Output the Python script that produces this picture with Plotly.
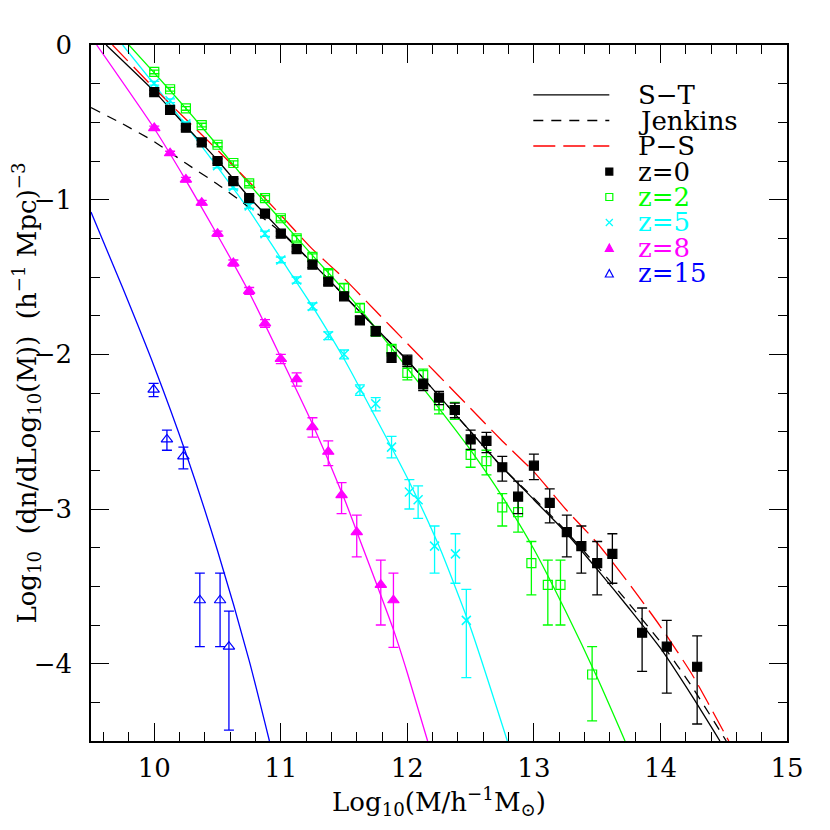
import plotly.graph_objects as go

# ---------------- data ----------------
# theoretical curves
st0_x = [9.62, 10.0, 10.25, 10.5, 10.75, 11.0, 11.25, 11.5, 11.75, 12.0, 12.25, 12.5, 12.75, 13.0, 13.25, 13.5, 13.75, 14.0, 14.25, 14.47]
st0_y = [0.0, -0.30, -0.525, -0.745, -0.985, -1.20, -1.41, -1.62, -1.83, -2.04, -2.27, -2.50, -2.73, -2.94, -3.15, -3.39, -3.64, -3.90, -4.21, -4.50]

jen_x = [9.5, 9.75, 10.0, 10.25, 10.5, 10.75, 11.0, 11.25, 11.5, 11.75, 12.0, 12.25, 12.5, 12.75, 13.0, 13.25, 13.5, 13.75, 14.0, 14.25, 14.52]
jen_y = [-0.405, -0.51, -0.625, -0.765, -0.90, -1.05, -1.21, -1.41, -1.62, -1.83, -2.04, -2.27, -2.50, -2.73, -2.93, -3.14, -3.37, -3.61, -3.86, -4.15, -4.50]

ps_x = [9.67, 10.0, 10.25, 10.5, 10.75, 11.0, 11.25, 11.5, 11.75, 12.0, 12.25, 12.5, 12.75, 13.0, 13.25, 13.5, 13.75, 14.0, 14.25, 14.5, 14.54]
ps_y = [0.0, -0.28, -0.48, -0.68, -0.885, -1.10, -1.32, -1.51, -1.72, -1.93, -2.14, -2.35, -2.56, -2.76, -3.00, -3.22, -3.48, -3.76, -4.07, -4.44, -4.50]

st2_x = [9.80, 10.0, 10.25, 10.5, 10.75, 11.0, 11.25, 11.5, 11.75, 12.0, 12.25, 12.5, 12.75, 13.0, 13.25, 13.5, 13.72]
st2_y = [0.0, -0.18, -0.41, -0.65, -0.90, -1.13, -1.36, -1.585, -1.83, -2.09, -2.35, -2.62, -2.92, -3.26, -3.66, -4.09, -4.50]

st5_x = [9.75, 10.0, 10.25, 10.5, 10.75, 11.0, 11.25, 11.5, 11.75, 12.0, 12.25, 12.5, 12.79]
st5_y = [0.0, -0.255, -0.52, -0.79, -1.07, -1.38, -1.69, -2.03, -2.41, -2.80, -3.24, -3.77, -4.50]

st8_x = [9.545, 10.0, 10.25, 10.5, 10.75, 11.0, 11.25, 11.5, 11.625, 11.75, 11.89, 12.0, 12.16]
st8_y = [0.0, -0.54, -0.875, -1.23, -1.60, -2.02, -2.45, -2.93, -3.20, -3.47, -3.78, -4.06, -4.50]

st15_x = [9.5, 9.75, 10.0, 10.25, 10.5, 10.75, 10.91]
st15_y = [-1.08, -1.57, -2.08, -2.64, -3.27, -3.98, -4.50]

# simulation points with (asymmetric) error bars
z0_x = [10.0, 10.125, 10.25, 10.375, 10.5, 10.625, 10.75, 10.875, 11.0, 11.125, 11.25, 11.375, 11.5,
        11.625, 11.75, 11.875, 12.0, 12.125, 12.25, 12.375, 12.5, 12.625, 12.75, 12.875, 13.0, 13.125,
        13.26, 13.375, 13.5, 13.62, 13.855, 14.05, 14.29]
z0_y = [-0.305, -0.42, -0.535, -0.63, -0.75, -0.88, -0.99, -1.09, -1.22, -1.32, -1.42, -1.53, -1.625,
        -1.78, -1.85, -2.02, -2.04, -2.195, -2.28, -2.36, -2.55, -2.56, -2.73, -2.92, -2.72, -2.96,
        -3.15, -3.24, -3.35, -3.29, -3.80, -3.89, -4.02]
z0_ep = [0.012, 0.012, 0.012, 0.012, 0.014, 0.014, 0.015, 0.015, 0.017, 0.018, 0.02, 0.02, 0.022,
         0.025, 0.028, 0.03, 0.035, 0.035, 0.04, 0.045, 0.06, 0.055, 0.07, 0.10, 0.075, 0.09,
         0.11, 0.13, 0.14, 0.13, 0.16, 0.17, 0.20]
z0_em = [0.012, 0.012, 0.012, 0.012, 0.014, 0.014, 0.015, 0.015, 0.017, 0.018, 0.02, 0.02, 0.022,
         0.025, 0.03, 0.032, 0.04, 0.04, 0.045, 0.05, 0.065, 0.075, 0.09, 0.11, 0.09, 0.13,
         0.16, 0.175, 0.205, 0.19, 0.25, 0.30, 0.37]

z2_x = [10.0, 10.125, 10.25, 10.375, 10.5, 10.625, 10.75, 10.875, 11.0, 11.125, 11.25, 11.375, 11.5,
        11.625, 11.75, 11.875, 12.0, 12.125, 12.25, 12.375, 12.5, 12.625, 12.75, 12.875, 12.98, 13.11,
        13.21, 13.46]
z2_y = [-0.174, -0.286, -0.41, -0.518, -0.645, -0.763, -0.895, -0.99, -1.12, -1.25, -1.37, -1.475, -1.57,
        -1.70, -1.85, -1.97, -2.12, -2.135, -2.33, -2.36, -2.65, -2.69, -2.99, -3.02, -3.35, -3.49,
        -3.49, -4.07]
z2_ep = [0.012, 0.012, 0.012, 0.012, 0.013, 0.014, 0.015, 0.016, 0.017, 0.018, 0.02, 0.022, 0.025,
         0.027, 0.03, 0.035, 0.04, 0.04, 0.05, 0.05, 0.08, 0.07, 0.09, 0.10, 0.14, 0.16, 0.16, 0.18]
z2_em = [0.012, 0.012, 0.012, 0.012, 0.013, 0.014, 0.015, 0.016, 0.017, 0.018, 0.02, 0.022, 0.025,
         0.028, 0.032, 0.04, 0.045, 0.045, 0.055, 0.06, 0.08, 0.09, 0.12, 0.13, 0.205, 0.26, 0.26, 0.30]

z5_x = [10.0, 10.125, 10.25, 10.375, 10.5, 10.625, 10.75, 10.875, 11.0, 11.125, 11.25, 11.375, 11.5,
        11.625, 11.75, 11.875, 12.016, 12.085, 12.215, 12.38, 12.466]
z5_y = [-0.247, -0.36, -0.51, -0.626, -0.78, -0.916, -1.04, -1.22, -1.39, -1.52, -1.69, -1.88, -2.0,
        -2.23, -2.32, -2.60, -2.89, -2.94, -3.24, -3.29, -3.72]
z5_ep = [0.012, 0.012, 0.012, 0.013, 0.014, 0.015, 0.016, 0.017, 0.018, 0.02, 0.022, 0.025, 0.028,
         0.032, 0.04, 0.07, 0.08, 0.09, 0.13, 0.13, 0.20]
z5_em = [0.012, 0.012, 0.012, 0.013, 0.014, 0.015, 0.016, 0.017, 0.018, 0.02, 0.022, 0.025, 0.03,
         0.035, 0.045, 0.07, 0.11, 0.12, 0.175, 0.19, 0.37]

z8_x = [10.0, 10.125, 10.25, 10.375, 10.5, 10.625, 10.75, 10.875, 11.0, 11.125, 11.25, 11.375, 11.48,
        11.60, 11.79, 11.89]
z8_y = [-0.537, -0.70, -0.87, -1.02, -1.22, -1.41, -1.59, -1.80, -2.03, -2.16, -2.47, -2.63, -2.91,
        -3.15, -3.49, -3.59]
z8_ep = [0.012, 0.013, 0.014, 0.015, 0.017, 0.02, 0.022, 0.025, 0.03, 0.04, 0.06, 0.07, 0.08, 0.11, 0.16, 0.175]
z8_em = [0.012, 0.013, 0.014, 0.015, 0.017, 0.02, 0.022, 0.025, 0.03, 0.045, 0.065, 0.09, 0.12, 0.16, 0.26, 0.305]

z15_x = [9.995, 10.10, 10.23, 10.36, 10.52, 10.59]
z15_y = [-2.228, -2.55, -2.66, -3.59, -3.59, -3.89]
z15_ep = [0.04, 0.06, 0.06, 0.175, 0.175, 0.23]
z15_em = [0.045, 0.07, 0.08, 0.30, 0.30, 0.54]

# axis ticks
x_ticks = [10, 11, 12, 13, 14, 15]
y_ticks = [0, -1, -2, -3, -4]

# ---------------- styling ----------------
BLACK, GREEN, CYAN, MAGENTA, BLUE, RED = "#000000", "#00ff00", "#00ffff", "#ff00ff", "#0000ff", "#ff0000"
FONT = "DejaVu Serif"
LW = 1.3

fig = go.Figure()

def curve(x, y, color, dash="solid"):
    fig.add_trace(go.Scatter(x=x, y=y, mode="lines", showlegend=False,
                             line=dict(color=color, width=LW, dash=dash, shape="spline", smoothing=0.6)))

curve(st15_x, st15_y, BLUE)
curve(st8_x, st8_y, MAGENTA)
curve(st5_x, st5_y, CYAN)
curve(st2_x, st2_y, GREEN)
curve(ps_x, ps_y, RED, "22px,8px")
curve(jen_x, jen_y, BLACK, "10px,8px")
curve(st0_x, st0_y, BLACK)

def points(x, y, ep, em, color, symbol, size, lw=1.2):
    fig.add_trace(go.Scatter(
        x=x, y=y, mode="markers", showlegend=False,
        marker=dict(symbol=symbol, size=size, color=color,
                    line=dict(color=color, width=lw)),
        error_y=dict(type="data", symmetric=False, array=ep, arrayminus=em,
                     color=color, thickness=1.3, width=5)))

points(z15_x, z15_y, z15_ep, z15_em, BLUE, "triangle-up-open", 10)
points(z8_x, z8_y, z8_ep, z8_em, MAGENTA, "triangle-up", 10)
points(z5_x, z5_y, z5_ep, z5_em, CYAN, "x-thin-open", 9, 1.5)
points(z2_x, z2_y, z2_ep, z2_em, GREEN, "square-open", 9)
points(z0_x, z0_y, z0_ep, z0_em, BLACK, "square", 9)

# ---------------- custom legend (paper coordinates) ----------------
rows = [0.9282, 0.8915, 0.8549, 0.8182, 0.7816, 0.7450, 0.7083, 0.6717]
lx0, lx1, tx = 0.6355, 0.7447, 0.783
LFS = 26
line_items = [("S\u2212T", BLACK, "solid"), ("Jenkins", BLACK, "10px,8px"), ("P\u2212S", RED, "22px,8px")]
shapes = []
annotations = []
for i, (lab, col, dash) in enumerate(line_items):
    shapes.append(dict(type="line", xref="paper", yref="paper", x0=lx0, x1=lx1, y0=rows[i], y1=rows[i],
                       line=dict(color=col, width=LW, dash=dash)))
    annotations.append(dict(text=lab, xref="paper", yref="paper", x=tx, y=rows[i], xanchor="left",
                            yanchor="middle", showarrow=False, font=dict(family=FONT, size=LFS, color=BLACK)))

marker_items = [("z=0", BLACK, "sq_fill"), ("z=2", GREEN, "sq_open"), ("z=5", CYAN, "cross"),
                ("z=8", MAGENTA, "tri_fill"), ("z=15", BLUE, "tri_open")]
for j, (lab, col, kind) in enumerate(marker_items):
    r = rows[3 + j]
    base = dict(xref="paper", yref="paper", xsizemode="pixel", ysizemode="pixel",
                xanchor=lx1, yanchor=r)
    if kind.startswith("sq"):
        shapes.append(dict(type="rect", x0=-3.5, x1=3.5, y0=-3.5, y1=3.5,
                           fillcolor=col if kind == "sq_fill" else "rgba(0,0,0,0)",
                           line=dict(color=col, width=1.2), **base))
    elif kind == "cross":
        shapes.append(dict(type="path", path="M-3.5,-3.5L3.5,3.5M-3.5,3.5L3.5,-3.5",
                           line=dict(color=col, width=1.2), **base))
    else:
        shapes.append(dict(type="path", path="M-4,-3.5L4,-3.5L0,4Z",
                           fillcolor=col if kind == "tri_fill" else "rgba(0,0,0,0)",
                           line=dict(color=col, width=1.2), **base))
    annotations.append(dict(text=lab, xref="paper", yref="paper", x=tx, y=r, xanchor="left",
                            yanchor="middle", showarrow=False, font=dict(family=FONT, size=LFS, color=col)))

axis_common = dict(showline=True, linecolor=BLACK, linewidth=1.5, mirror="allticks",
                   ticks="inside", tickcolor=BLACK, tickwidth=1.3, ticklen=18,
                   showgrid=False, zeroline=False, automargin=False,
                   tickfont=dict(family=FONT, size=26, color=BLACK))

# the page body adds an 8px offset, so the figure is 822px with margins set accordingly
fig.update_layout(
    width=822, height=822,
    margin=dict(l=83, r=43, t=37, b=89),
    paper_bgcolor="white", plot_bgcolor="white",
    showlegend=False,
    shapes=shapes, annotations=annotations,
    xaxis=dict(range=[9.5, 15], tickvals=x_ticks, ticktext=[str(v) for v in x_ticks],
               minor=dict(ticks="inside", dtick=0.2, tick0=10, ticklen=9, tickcolor=BLACK, tickwidth=1.3),
               ticklabelstandoff=3,
               title=dict(text="Log<sub>10</sub>(M/h<sup>\u22121</sup>M<sub>\u2299</sub>)",
                          font=dict(family=FONT, size=26, color=BLACK), standoff=2),
               **axis_common),
    yaxis=dict(range=[-4.5, 0], tickvals=y_ticks,
               ticktext=["0" if v == 0 else "\u2212" + str(abs(v)) for v in y_ticks],
               minor=dict(ticks="inside", dtick=0.25, tick0=0, ticklen=9, tickcolor=BLACK, tickwidth=1.3),
               ticklabelstandoff=12,
               title=dict(text="Log<sub>10</sub>  (dn/dLog<sub>10</sub>(M))  (h<sup>\u22121</sup> Mpc)<sup>\u22123</sup>",
                          font=dict(family=FONT, size=26, color=BLACK), standoff=2),
               **axis_common),
)

fig.write_html("out.html")
